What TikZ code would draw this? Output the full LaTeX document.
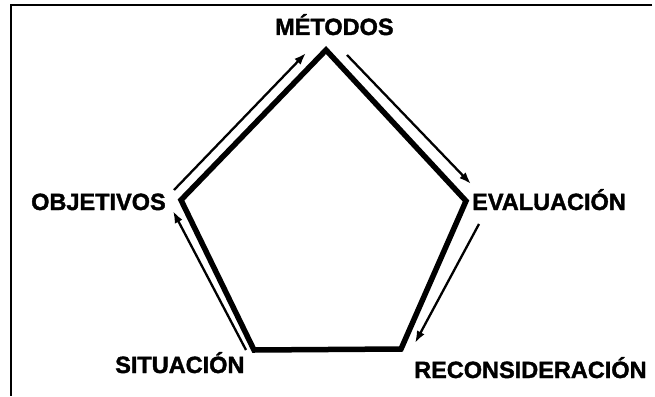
\documentclass[tikz,border=0pt]{standalone}
\usepackage{fontspec}
\setmainfont{Liberation Sans}
\newfontfamily\heavy[BoldFeatures={FakeBold=1.6}]{Liberation Sans}
\usetikzlibrary{arrows.meta, positioning}

\begin{document}
\begin{tikzpicture}[
    x=1pt, y=-1pt,
    stage/.style={inner sep=0pt, anchor=base west, font=\heavy\bfseries\fontsize{23.5}{24}\selectfont},
    cycle/.style={draw, line width=5.5pt, line join=miter},
    flow/.style={draw, line width=2.3pt, -{Latex[length=12pt,width=8.5pt]}},
    frame/.style={draw, line width=2.6pt}
]
\useasboundingbox (0,0) rectangle (655,396);

% Frame
\coordinate (ftop) at (652,5);
\coordinate (fcorner) at (11,5);
\coordinate (fbottom) at (11,396);
\path [frame] (ftop) -- (fcorner) -- (fbottom);

% Vertices
\coordinate (met) at (326,50);
\coordinate (eva) at (466,201);
\coordinate (rec) at (401,349);
\coordinate (sit) at (254,350);
\coordinate (obj) at (181,200);
\path [cycle] (met) -- (eva) -- (rec) -- (sit) -- (obj) -- cycle;

% Labels
\node[stage] (lmet) at (275,35) {MÉTODOS};
\node[stage] (lobj) at (31,210) {OBJETIVOS};
\node[stage] (leva) at (472,210) {EVALUACIÓN};
\node[stage] (lsit) at (115,373) {SITUACIÓN};
\node[stage] (lrec) at (414,378) {RECONSIDERACIÓN};

% Arrows
\coordinate (a1) at (174,190);
\coordinate (a2) at (306,53);
\coordinate (b1) at (347,55);
\coordinate (b2) at (471,184);
\coordinate (c1) at (479,224);
\coordinate (c2) at (415,343);
\coordinate (d1) at (246,350);
\coordinate (d2) at (173,211);
\path [flow] (a1) -- (a2);
\path [flow] (b1) -- (b2);
\path [flow] (c1) -- (c2);
\path [flow] (d1) -- (d2);

\end{tikzpicture}
\end{document}
